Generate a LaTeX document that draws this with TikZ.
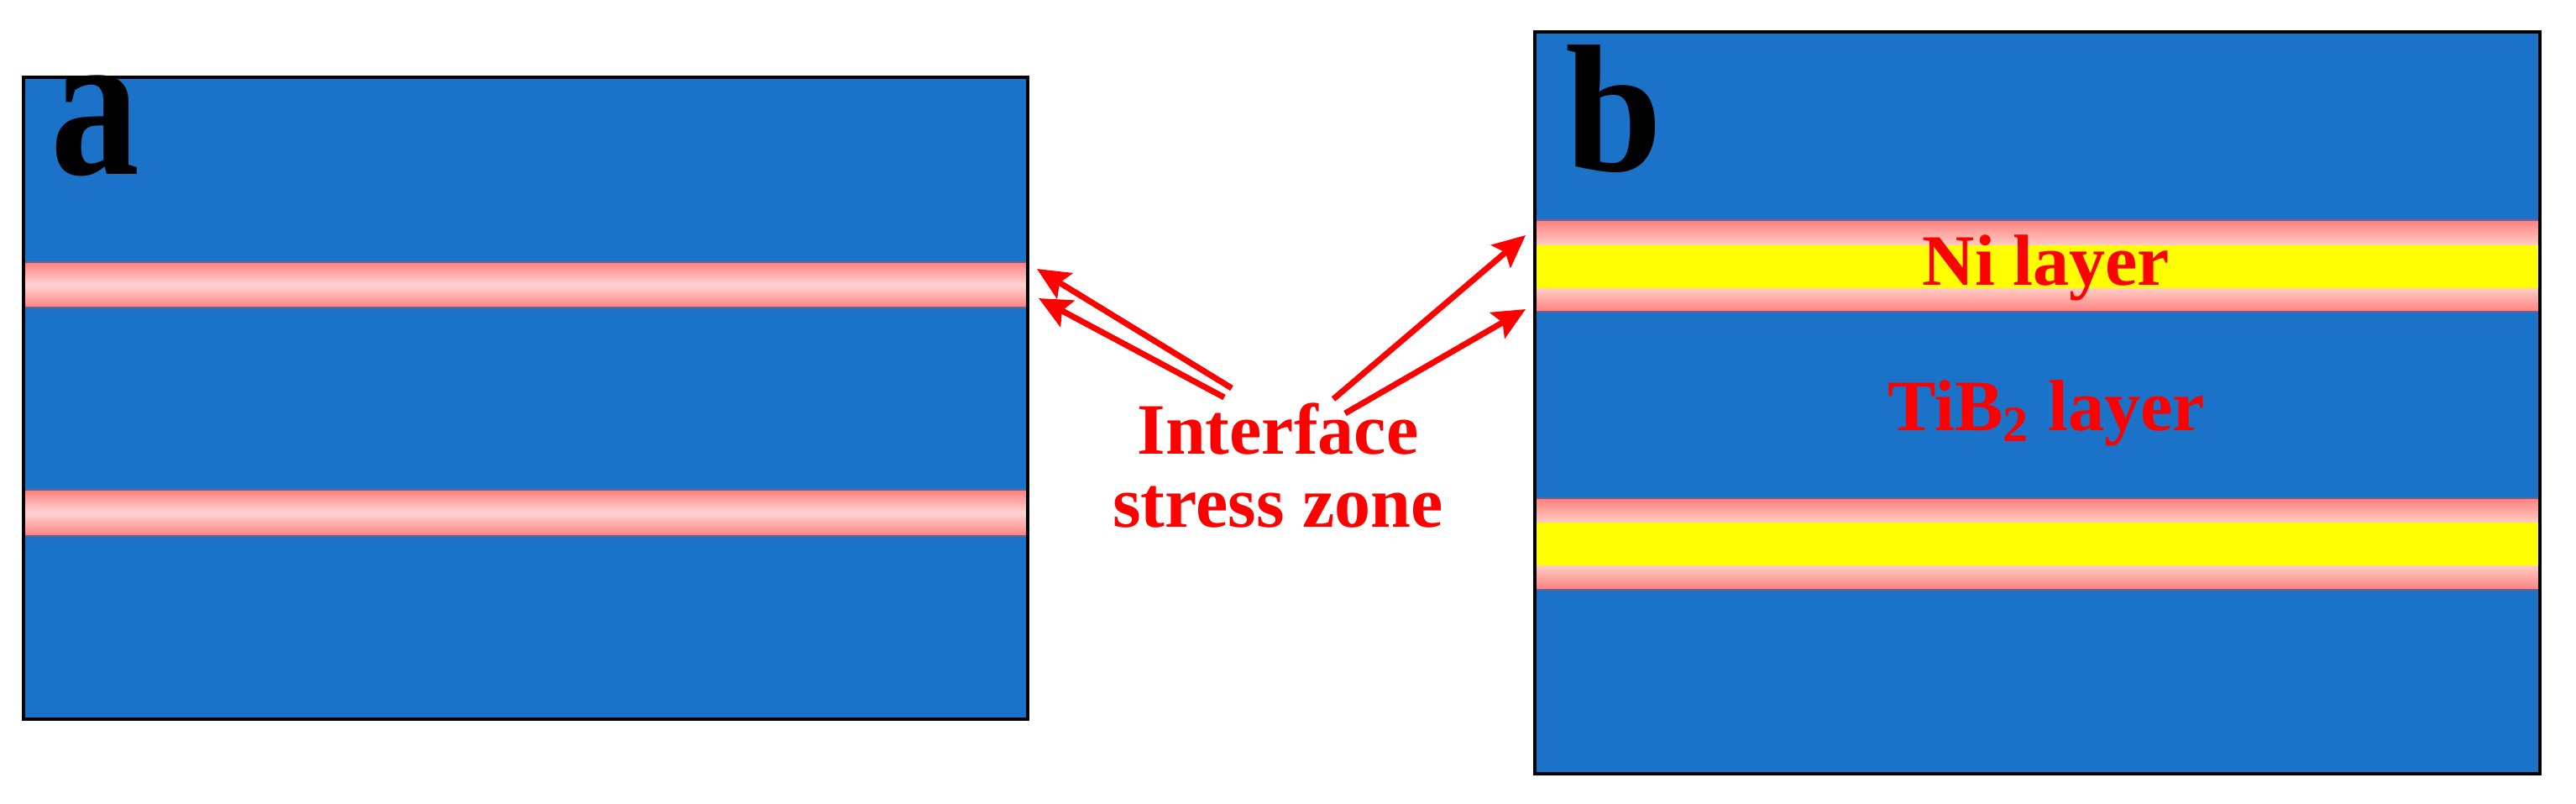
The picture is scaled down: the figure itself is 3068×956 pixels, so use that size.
\documentclass[tikz,border=0pt]{standalone}
\usepackage{fontspec}
\usepackage{graphicx}
\setmainfont{Liberation Serif}
\usetikzlibrary{arrows.meta}
\definecolor{layerblue}{RGB}{26,115,201}
\definecolor{salmonpk}{RGB}{255,128,128}
\definecolor{palepk}{RGB}{255,212,212}
\definecolor{creampk}{RGB}{255,205,195}
\definecolor{edgeline}{RGB}{115,95,140}
\definecolor{layeryellow}{RGB}{255,255,0}
\definecolor{labred}{RGB}{255,0,0}
\begin{document}
\begin{tikzpicture}[x=0.01cm,y=-0.01cm,
  panelframe/.style={draw=black, line width=0.9pt},
  stripeedge/.style={draw=edgeline, line width=0.5pt},
  pointer/.style={draw=labred, line width=2pt, -{Stealth[length=11pt,width=10pt,inset=2pt]}},
  redlabel/.style={text=labred, font=\bfseries\fontsize{24.5}{24.5}\selectfont, inner sep=0pt},
  panellabel/.style={text=black, font=\bfseries\fontsize{61.5}{61.5}\selectfont, inner sep=0pt, anchor=base west}]
\useasboundingbox (0,0) rectangle (3068,956);
\fill[white] (0,0) rectangle (3068,956);
% ---------- panel a ----------
\fill[layerblue] (28,92) rectangle (1224,856);
\shade[top color=salmonpk, bottom color=salmonpk, middle color=palepk] (28,312) rectangle (1224,366);
\shade[top color=salmonpk, bottom color=salmonpk, middle color=palepk] (28,583) rectangle (1224,638);
\foreach \yy in {312,366,583,638} \draw[stripeedge] (28,\yy) -- (1224,\yy);
\draw[panelframe] (28,92) rectangle (1224,856);
\node[panellabel] (la) at (60,207) {\scalebox{0.98}[1.16]{a}};
% ---------- panel b ----------
\fill[layerblue] (1828,38) rectangle (3025,921);
\shade[top color=salmonpk, bottom color=creampk] (1828,262) rectangle (3025,292);
\fill[layeryellow] (1828,292) rectangle (3025,343);
\shade[top color=creampk, bottom color=salmonpk] (1828,343) rectangle (3025,371);
\shade[top color=salmonpk, bottom color=creampk] (1828,593) rectangle (3025,622);
\fill[layeryellow] (1828,622) rectangle (3025,673);
\shade[top color=creampk, bottom color=salmonpk] (1828,673) rectangle (3025,702);
\foreach \yy in {262,371,593,702} \draw[stripeedge] (1828,\yy) -- (3025,\yy);
\draw[panelframe] (1828,38) rectangle (3025,921);
\node[panellabel] (lb) at (1864,203) {\scalebox{0.96}[1]{b}};
\node[redlabel, anchor=base] (ni) at (2437,339) {Ni layer};
\node[redlabel, anchor=base] (tib) at (2437,512) {TiB\textsubscript{2} layer};
% ---------- label and arrows ----------
\node[redlabel, align=center, font=\bfseries\fontsize{24.5}{24.75}\selectfont] (isz) at (1522,554)
  {Interface\\stress zone};
\coordinate (s1) at (1467,462); \coordinate (t1) at (1235,320);
\coordinate (s2) at (1458,473); \coordinate (t2) at (1237,355);
\coordinate (s3) at (1588,475); \coordinate (t3) at (1817,280);
\coordinate (s4) at (1602,492); \coordinate (t4) at (1817,368);
\draw[pointer] (s1) -- (t1);
\draw[pointer] (s2) -- (t2);
\draw[pointer] (s3) -- (t3);
\draw[pointer] (s4) -- (t4);
\end{tikzpicture}
\end{document}
